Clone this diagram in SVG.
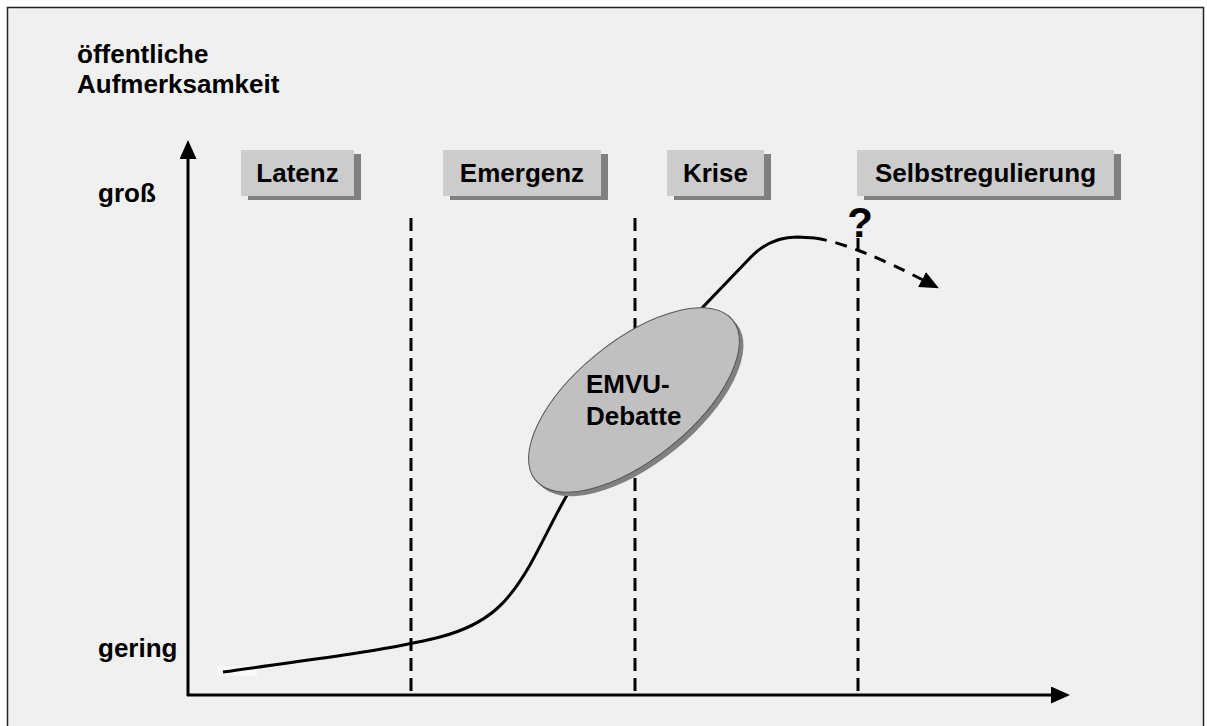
<svg xmlns="http://www.w3.org/2000/svg" width="1207" height="726" viewBox="0 0 1207 726">
<defs>
<style>
.t{font-family:"Liberation Sans",Arial,sans-serif;font-weight:bold;font-size:26px;fill:#000}
.box{fill:#cccccc}
.sh{fill:#808080}
.ax{stroke:#000;stroke-width:3;fill:none}
.dash{stroke:#000;stroke-width:3;stroke-dasharray:13 7;fill:none}
</style>
<marker id="ah" markerUnits="userSpaceOnUse" markerWidth="19" markerHeight="17" refX="0" refY="8.5" orient="auto" viewBox="0 0 19 17">
<path d="M0,0 L19,8.5 L0,17 z" fill="#000"/>
</marker>
</defs>
<rect x="0" y="0" width="1207" height="726" fill="#ffffff"/>
<rect x="7.5" y="7.5" width="1196" height="730" fill="#f0f0f0" stroke="#222" stroke-width="1.5"/>

<g id="ylabel">
<text class="t" x="77" y="63">öffentliche</text>
<text class="t" x="77" y="93">Aufmerksamkeit</text>
</g>
<g id="gross"><text class="t" x="98" y="202">groß</text></g>
<g id="gering"><text class="t" x="98" y="657">gering</text></g>

<g id="connectors">
<line class="ax" x1="188" y1="696" x2="188" y2="159" marker-end="url(#ah)"/>
<line class="ax" x1="187" y1="695" x2="1051" y2="695" marker-end="url(#ah)"/>
<line class="dash" x1="411" y1="218" x2="411" y2="694"/>
<line class="dash" x1="635" y1="218" x2="635" y2="694"/>
<line class="dash" x1="858" y1="238" x2="858" y2="694"/>
<rect x="217" y="666" width="40" height="10" fill="#f8f8f8"/>
<path class="ax" d="M223,672 C300,661 380,652 440,637 C490,624 510,600 530,565 C545,538 555,515 570,490 L703,307 L750,258 C765,242 780,237 797,237 L815,238"/>
<path d="M815,238 C845,243 880,258 922,279.5" fill="none" stroke="#000" stroke-width="3" stroke-dasharray="12 9" marker-end="url(#ah)"/>
</g>

<g id="latenz">
<rect class="sh" x="248" y="154" width="113" height="46"/>
<rect class="box" x="241" y="150" width="113" height="46"/>
<text class="t" x="297.5" y="182" text-anchor="middle">Latenz</text>
</g>
<g id="emergenz">
<rect class="sh" x="450" y="154" width="158" height="46"/>
<rect class="box" x="443" y="150" width="158" height="46"/>
<text class="t" x="522" y="182" text-anchor="middle">Emergenz</text>
</g>
<g id="krise">
<rect class="sh" x="674" y="154" width="97" height="46"/>
<rect class="box" x="667" y="150" width="97" height="46"/>
<text class="t" x="715.5" y="182" text-anchor="middle">Krise</text>
</g>
<g id="selbstregulierung">
<rect class="sh" x="864" y="154" width="257" height="46"/>
<rect class="box" x="857" y="150" width="257" height="46"/>
<text class="t" x="985.5" y="182" text-anchor="middle">Selbstregulierung</text>
</g>

<g id="question"><text class="t" x="860" y="237" text-anchor="middle" style="font-size:42px">?</text></g>

<g id="emvu">
<ellipse cx="638" cy="404" rx="127" ry="59" transform="rotate(-39 638 404)" fill="#808080"/>
<ellipse cx="634" cy="400" rx="127" ry="59" transform="rotate(-39 634 400)" fill="#c0c0c0" stroke="#555" stroke-width="1"/>
<text class="t" x="586" y="393">EMVU-</text>
<text class="t" x="586" y="425">Debatte</text>
</g>
</svg>
